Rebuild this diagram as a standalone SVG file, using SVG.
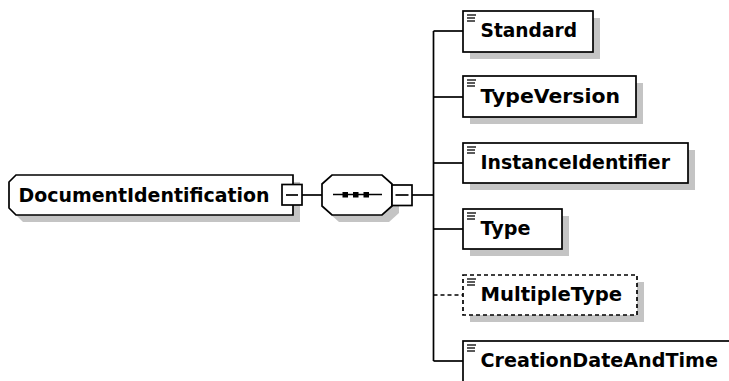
<svg xmlns="http://www.w3.org/2000/svg" width="729" height="381" viewBox="0 0 729 381">
<style>
.shadow{fill:#c4c4c4;stroke:none}
.box{fill:#fff;stroke:#000;stroke-width:1.7}
.dbox{fill:#fff;stroke:#000;stroke-width:1.7;stroke-dasharray:4,3}
.ln{stroke:#000;stroke-width:1.7;fill:none}
.dln{stroke:#000;stroke-width:1.7;fill:none;stroke-dasharray:4,3}
.lbl{font-family:"DejaVu Sans",Verdana,sans-serif;font-weight:bold;font-size:19.5px;fill:#000}
.ico{stroke:#000;stroke-width:1.3}
</style>
<defs>
<g id="icon"><line class="ico" x1="0" y1="0" x2="9" y2="0"/><line class="ico" x1="0" y1="3" x2="8" y2="3"/><line class="ico" x1="0" y1="6" x2="8" y2="6"/></g>
</defs>
<g id="connectors">
<line class="ln" x1="302" y1="195" x2="322" y2="195"/>
<line class="ln" x1="412" y1="195" x2="433.5" y2="195"/>
<line class="ln" x1="433.5" y1="31" x2="433.5" y2="361"/>
<line class="ln" x1="433.5" y1="31" x2="463" y2="31"/>
<line class="ln" x1="433.5" y1="97" x2="463" y2="97"/>
<line class="ln" x1="433.5" y1="163" x2="463" y2="163"/>
<line class="ln" x1="433.5" y1="229" x2="463" y2="229"/>
<line class="dln" x1="433.5" y1="295" x2="463" y2="295"/>
<line class="ln" x1="433.5" y1="361" x2="463" y2="361"/>
</g>
<g id="DocumentIdentification">
<polygon class="shadow" points="23,182 300,182 300,222 23,222 16,215 16,189"/>
<polygon class="box" points="16,175 293,175 293,215 16,215 9,208 9,182"/>
<text class="lbl" x="18.5" y="202" textLength="251" lengthAdjust="spacingAndGlyphs">DocumentIdentification</text>
<rect class="box" x="282" y="184.5" width="20" height="20.5"/>
<line class="ln" x1="286" y1="195" x2="298" y2="195"/>
</g>
<g id="sequence">
<polygon class="shadow" points="339,182 389,182 399,191 399,213 389,222 339,222 329,213 329,191"/>
<polygon class="box" points="332,175 382,175 392,184 392,206 382,215 332,215 322,206 322,184"/>
<line class="ln" x1="333" y1="194.5" x2="382" y2="194.5"/>
<rect x="342.5" y="192" width="5.5" height="5.5" fill="#000"/>
<rect x="353" y="192" width="5.5" height="5.5" fill="#000"/>
<rect x="363.5" y="192" width="5.5" height="5.5" fill="#000"/>
<rect class="box" x="392" y="185" width="20" height="20.5"/>
<line class="ln" x1="395.5" y1="195" x2="408.5" y2="195"/>
</g>
<g id="Standard">
<rect class="shadow" x="470" y="18" width="130" height="41"/>
<rect class="box" x="463" y="11" width="130" height="41"/>
<use href="#icon" x="467" y="15"/>
<text class="lbl" x="480.5" y="37" textLength="96.5" lengthAdjust="spacingAndGlyphs">Standard</text>
</g>
<g id="TypeVersion">
<rect class="shadow" x="470" y="83" width="173" height="41"/>
<rect class="box" x="463" y="76" width="173" height="41"/>
<use href="#icon" x="467" y="80"/>
<text class="lbl" x="480.5" y="103" textLength="139.5" lengthAdjust="spacingAndGlyphs">TypeVersion</text>
</g>
<g id="InstanceIdentifier">
<rect class="shadow" x="470" y="150" width="225" height="40"/>
<rect class="box" x="463" y="143" width="225" height="40"/>
<use href="#icon" x="467" y="147"/>
<text class="lbl" x="480.5" y="169" textLength="189.5" lengthAdjust="spacingAndGlyphs">InstanceIdentifier</text>
</g>
<g id="Type">
<rect class="shadow" x="470" y="216" width="99" height="40"/>
<rect class="box" x="463" y="209" width="99" height="40"/>
<use href="#icon" x="467" y="213"/>
<text class="lbl" x="480.5" y="235" textLength="50" lengthAdjust="spacingAndGlyphs">Type</text>
</g>
<g id="MultipleType">
<rect class="shadow" x="470" y="282" width="174" height="40"/>
<rect class="dbox" x="463" y="275" width="174" height="40"/>
<use href="#icon" x="467" y="279"/>
<text class="lbl" x="480.5" y="301" textLength="141.5" lengthAdjust="spacingAndGlyphs">MultipleType</text>
</g>
<g id="CreationDateAndTime">
<rect class="shadow" x="470" y="348" width="272" height="41"/>
<rect class="box" x="463" y="341" width="272" height="41"/>
<use href="#icon" x="467" y="345"/>
<text class="lbl" x="480.5" y="367" textLength="237.5" lengthAdjust="spacingAndGlyphs">CreationDateAndTime</text>
</g>
</svg>
